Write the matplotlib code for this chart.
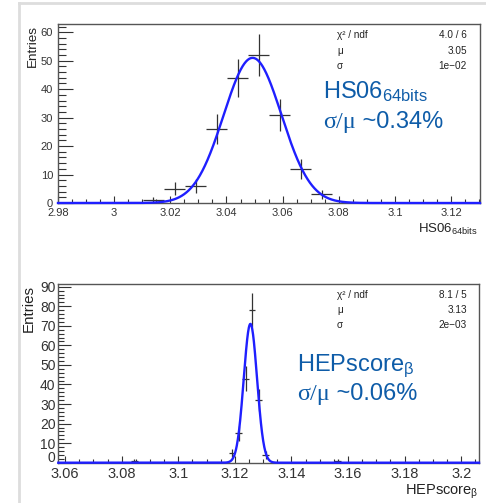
import numpy as np
import matplotlib
matplotlib.use("Agg")
import matplotlib.pyplot as plt
from matplotlib.lines import Line2D
from matplotlib.ticker import MultipleLocator, FuncFormatter

plt.rcParams['font.family'] = ['Liberation Sans', 'DejaVu Sans']
plt.rcParams['mathtext.fontset'] = 'custom'
plt.rcParams['mathtext.rm'] = 'Liberation Sans'
plt.rcParams['mathtext.it'] = 'Liberation Sans:italic'

# --- data ---
# HS06 64bits histogram
hs_centers = [3.0140, 3.0215, 3.0290, 3.0365, 3.0440, 3.0515, 3.0590, 3.0665, 3.0740]
hs_counts = [1, 5, 6, 26, 44, 52, 31, 12, 3]
hs_binw = 0.0075
hs_fit = (51.0, 3.0493, 0.0103)   # amplitude, mean, sigma
hs_stats = [("χ² / ndf", "4.0 / 6"), ("μ", "3.05"), ("σ", "1e−02")]

# HEPscore beta histogram
hep_centers = [3.0844, 3.1190, 3.1214, 3.1238, 3.1261, 3.1285, 3.1309, 3.1564]
hep_counts = [1, 5, 15, 43, 78, 32, 4, 1]
hep_binw = 0.0024
hep_fit = (71.0, 3.1255, 0.00235)
hep_stats = [("χ² / ndf", "8.1 / 5"), ("μ", "3.13"), ("σ", "2e−03")]

W, H = 486, 503
fig = plt.figure(figsize=(W / 100, H / 100), dpi=100)

# slide frame lines
fig.add_artist(Line2D([18.5 / W, 18.5 / W], [0, 1 - 3.3 / H], color='#dddddd', lw=2))
fig.add_artist(Line2D([18.5 / W, 1], [1 - 3.3 / H, 1 - 3.3 / H], color='#dddddd', lw=2))

blue_txt = '#0e5ca8'


def px(x0, y0, x1, y1):
    return [x0 / W, 1 - y1 / H, (x1 - x0) / W, (y1 - y0) / H]


def panel(rect, centers, counts, binw, fit, xlim, ylim, tfs, yfs, xpad, ypad, ymaj_len):
    ax = fig.add_axes(rect)
    c = np.array(centers)
    n = np.array(counts, dtype=float)
    ax.errorbar(c, n, xerr=binw / 2, yerr=np.sqrt(n), fmt='none',
                ecolor='#333333', elinewidth=0.9, capsize=0, zorder=2)
    xs = np.linspace(xlim[0], xlim[1], 1500)
    a, m, s = fit
    ax.plot(xs, a * np.exp(-0.5 * ((xs - m) / s) ** 2), color='#1f1fff', lw=1.7, zorder=3,
            clip_on=False)
    ax.set_xlim(*xlim)
    ax.set_ylim(*ylim)
    ax.xaxis.set_major_locator(MultipleLocator(0.02))
    ax.xaxis.set_minor_locator(MultipleLocator(0.005))
    ax.yaxis.set_major_locator(MultipleLocator(10))
    ax.yaxis.set_minor_locator(MultipleLocator(2))
    ax.tick_params(axis='both', which='both', direction='in', colors='#333333',
                   top=False, right=False)
    ax.tick_params(axis='x', which='major', length=5, width=0.8, labelsize=tfs, pad=xpad)
    ax.tick_params(axis='x', which='minor', length=3, width=0.8)
    ax.tick_params(axis='y', which='major', length=ymaj_len, width=0.8, labelsize=yfs, pad=ypad)
    ax.tick_params(axis='y', which='minor', length=ymaj_len / 2, width=0.8)
    ax.xaxis.set_major_formatter(FuncFormatter(lambda v, p: f"{v:.2f}".rstrip('0').rstrip('.')))
    for sp in ax.spines.values():
        sp.set_color('#555555')
        sp.set_linewidth(1.0)
    return ax


def stats(rows, ys):
    for (k, v), y in zip(rows, ys):
        fig.text(337 / W, 1 - y / H, k, fontsize=7.2, color='#222222', va='center', ha='left')
        fig.text(467 / W, 1 - y / H, v, fontsize=7.2, color='#222222', va='center', ha='right')


def big_label(x, y1, y2, name, ratio):
    fig.text(x / W, 1 - y1 / H, name, fontsize=17, color=blue_txt, va='baseline')
    t = fig.text(x / W, 1 - y2 / H, "σ/μ", fontsize=17.5, color=blue_txt, va='baseline',
                 family=['Liberation Serif', 'DejaVu Serif'])
    fig.canvas.draw()
    bb = t.get_window_extent()
    fig.text(bb.x1 / W, 1 - y2 / H, " ~" + ratio, fontsize=17, color=blue_txt, va='baseline')


# top panel
ax1 = panel(px(58, 24, 480, 203), hs_centers, hs_counts, hs_binw, hs_fit,
            (2.98, 3.1303), (0, 62.9), 8, 8, 3.5, 3.5, 11)
stats(hs_stats, [35, 51, 66])
big_label(323, 98, 128, "HS06$_{\\rm 64bits}$", "0.34%")
fig.text(478 / W, 1 - 233 / H, "HS06$_{\\rm 64bits}$", fontsize=9.5, ha='right', va='baseline',
         color='#222222')
fig.text(33 / W, 1 - 25 / H, "Entries", fontsize=9.7, rotation=90, ha='center', va='top',
         color='#222222')

# bottom panel
ax2 = panel(px(58.3, 284, 479, 462.7), hep_centers, hep_counts, hep_binw, hep_fit,
            (3.0576, 3.2063), (0, 91.4), 10.5, 10, 3.0, 2, 9)
# the "0" label is drawn by hand, a little higher, so it clears "3.06"
ax2.yaxis.set_major_formatter(FuncFormatter(lambda v, p: '' if v == 0 else f"{v:g}"))
ax2.annotate("0", xy=(0, 0), xycoords=('axes fraction', 'data'), xytext=(-2, 3.5),
             textcoords='offset points', ha='right', va='center', fontsize=10, color='#333333')
stats(hep_stats, [295, 310, 325])
big_label(297, 371, 400, "HEPscore$_{\\mathrm{β}}$", "0.06%")
fig.text(478 / W, 1 - 495 / H, "HEPscore$_{\\mathrm{β}}$", fontsize=10.5, ha='right',
         va='baseline', color='#222222')
fig.text(29 / W, 1 - 285 / H, "Entries", fontsize=10.9, rotation=90, ha='center', va='top',
         color='#222222')

fig.savefig("out.png", dpi=100)
